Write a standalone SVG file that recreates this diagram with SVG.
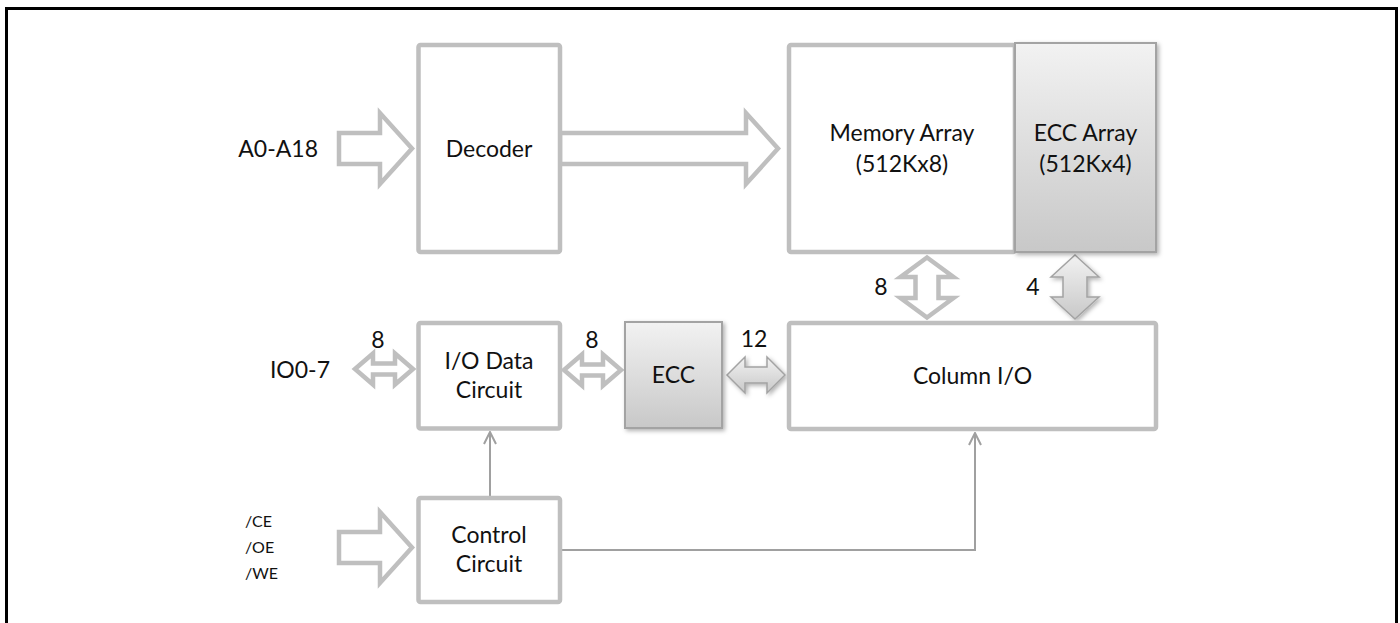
<svg xmlns="http://www.w3.org/2000/svg" width="1400" height="623" viewBox="0 0 1400 623">
<style>
.box{fill:#fff;stroke:#bfbfbf;stroke-width:4.5}
.shade{stroke:#a3a3a3;stroke-width:2;fill:url(#g)}
.harrow{fill:#fff;stroke:#bfbfbf;stroke-width:4.5;stroke-linejoin:miter}
.farrow{fill:url(#g);stroke:#a3a3a3;stroke-width:1.5}
.conn{fill:none;stroke:#a0a0a0;stroke-width:2}
text{font-family:Lato,"Liberation Sans",sans-serif;font-size:23px;fill:#111}
.c{text-anchor:middle}
.sm{font-size:16px}
</style>
<defs>
<linearGradient id="g" x1="0" y1="0" x2="0" y2="1">
<stop offset="0" stop-color="#f2f2f2"/>
<stop offset="1" stop-color="#c8c8c8"/>
</linearGradient>
<filter id="sh" x="-20%" y="-20%" width="140%" height="140%">
<feDropShadow dx="2" dy="2" stdDeviation="2" flood-color="#000" flood-opacity="0.3"/>
</filter>
<marker id="ah" viewBox="0 0 14 14" refX="13" refY="7" markerWidth="14" markerHeight="14" markerUnits="userSpaceOnUse" orient="auto">
<path d="M1,1 L13,7 L1,13" fill="none" stroke="#a0a0a0" stroke-width="2"/>
</marker>
</defs>
<rect x="6.5" y="8.5" width="1390" height="700" fill="none" stroke="#000" stroke-width="3"/>

<g id="connectors">
<path class="harrow" d="M339,133 H380 V113 L412,148.5 L380,184 V164 H339 Z"/>
<path class="harrow" d="M560,133 H746 V113 L778,148.5 L746,184 V164 H560 Z"/>
<path class="harrow" d="M339,532 H380 V512 L412,547.5 L380,583 V563 H339 Z"/>
<path class="harrow" d="M927,257.5 L953.5,277 H938.5 V298 H953.5 L927,317.5 L900.5,298 H915.5 V277 H900.5 Z"/>
<path class="farrow" filter="url(#sh)" d="M1075,255 L1099,277 H1087 V297 H1099 L1075,319 L1051,297 H1063 V277 H1051 Z"/>
<path class="harrow" d="M355,369 L373,353.5 V363.5 H395 V353.5 L413,369 L395,384.5 V374.5 H373 V384.5 Z"/>
<path class="harrow" d="M564,370 L582,354.5 V364.5 H603 V354.5 L621,370 L603,385.5 V375.5 H582 V385.5 Z"/>
<path class="farrow" filter="url(#sh)" d="M727,375 L745,357 V367 H767 V357 L785,375 L767,393 V383 H745 V393 Z"/>
<path class="conn" d="M490,496 V432" marker-end="url(#ah)"/>
<path class="conn" d="M562,550 H975 V433" marker-end="url(#ah)"/>
<text class="c" x="378" y="348">8</text>
<text class="c" x="592" y="348">8</text>
<text class="c" x="754" y="347">12</text>
<text class="c" x="881" y="295">8</text>
<text class="c" x="1033" y="295">4</text>
</g>

<g id="decoder">
<rect class="box" x="418.5" y="45" width="141.5" height="207" rx="2"/>
<text class="c" x="489" y="157">Decoder</text>
</g>
<g id="memory-array">
<rect class="box" x="789" y="45" width="226" height="207" rx="2"/>
<text class="c" x="902" y="141">Memory Array</text>
<text class="c" x="902" y="172">(512Kx8)</text>
</g>
<g id="ecc-array">
<rect class="shade" filter="url(#sh)" x="1015" y="43" width="141" height="209"/>
<text class="c" x="1085.5" y="141">ECC Array</text>
<text class="c" x="1085.5" y="172">(512Kx4)</text>
</g>
<g id="io-data">
<rect class="box" x="418.5" y="323" width="141.5" height="105.5" rx="2"/>
<text class="c" x="489" y="369">I/O Data</text>
<text class="c" x="489" y="398">Circuit</text>
</g>
<g id="ecc">
<rect class="shade" filter="url(#sh)" x="625" y="322" width="97" height="106"/>
<text class="c" x="673.5" y="383">ECC</text>
</g>
<g id="column-io">
<rect class="box" x="789" y="323" width="367" height="106" rx="2"/>
<text class="c" x="972.5" y="384">Column I/O</text>
</g>
<g id="control">
<rect class="box" x="418.5" y="498" width="141.5" height="104" rx="2"/>
<text class="c" x="489" y="543">Control</text>
<text class="c" x="489" y="572">Circuit</text>
</g>
<g id="inputs">
<text x="318" y="157" text-anchor="end">A0-A18</text>
<text x="330" y="378" text-anchor="end">IO0-7</text>
<text class="sm" x="245" y="527">/CE</text>
<text class="sm" x="245" y="553">/OE</text>
<text class="sm" x="245" y="579">/WE</text>
</g>
</svg>
